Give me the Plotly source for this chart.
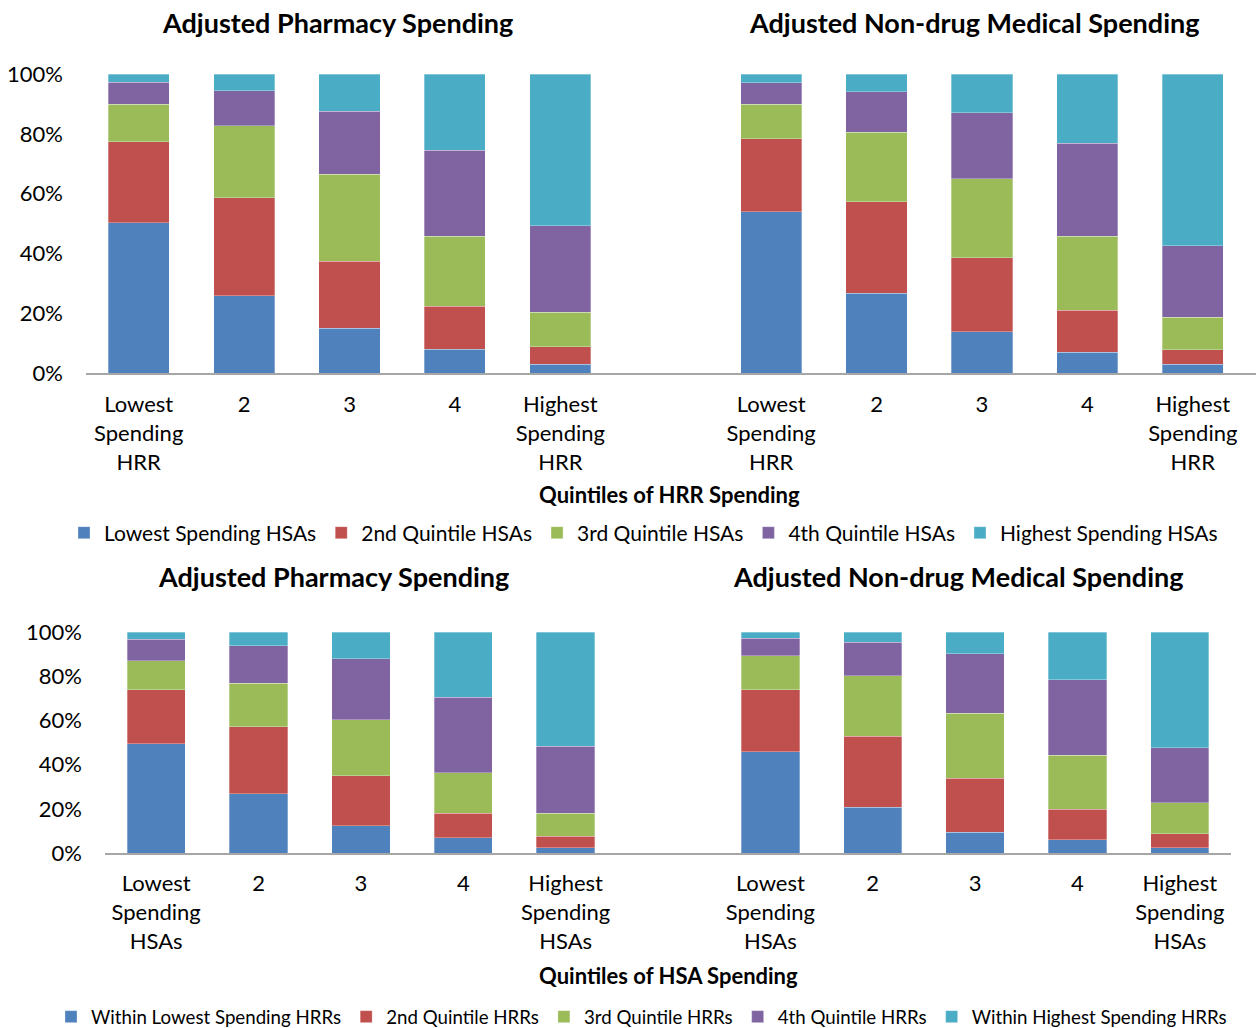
import plotly.graph_objects as go

W, H = 1259, 1028

# ---- data (percent of each bar) ----
series_hsa = ["Lowest Spending HSAs", "2nd Quintile HSAs", "3rd Quintile HSAs",
              "4th Quintile HSAs", "Highest Spending HSAs"]
series_hrr = ["Within Lowest Spending HRRs", "2nd Quintile HRRs", "3rd Quintile HRRs",
              "4th Quintile HRRs", "Within Highest Spending HRRs"]
colors = ["#4F81BD", "#C0504D", "#9BBB59", "#8064A2", "#4BACC6"]

cats_hrr = ["Lowest\nSpending\nHRR", "2", "3", "4", "Highest\nSpending\nHRR"]
cats_hsa = ["Lowest\nSpending\nHSAs", "2", "3", "4", "Highest\nSpending\nHSAs"]
y_ticks = [0, 20, 40, 60, 80, 100]

# Quintiles of HRR spending — pharmacy
hrr_pharm_lowest = [50.2, 25.8, 15.0, 8.0, 2.9]
hrr_pharm_q2 = [27.2, 32.8, 22.3, 14.3, 5.9]
hrr_pharm_q3 = [12.5, 24.1, 29.2, 23.4, 11.6]
hrr_pharm_q4 = [7.3, 11.7, 21.0, 28.8, 28.8]
hrr_pharm_highest = [2.8, 5.6, 12.5, 25.5, 50.8]

# Quintiles of HRR spending — non-drug medical
hrr_med_lowest = [53.9, 26.7, 13.8, 6.9, 2.9]
hrr_med_q2 = [24.5, 30.6, 24.7, 14.1, 4.9]
hrr_med_q3 = [11.5, 23.2, 26.5, 24.7, 10.9]
hrr_med_q4 = [7.2, 13.5, 22.1, 31.1, 23.8]
hrr_med_highest = [2.9, 6.0, 12.9, 23.2, 57.5]

# Quintiles of HSA spending — pharmacy
hsa_pharm_lowest = [49.4, 26.8, 12.3, 6.9, 2.3]
hsa_pharm_q2 = [24.5, 30.4, 22.6, 11.0, 5.2]
hsa_pharm_q3 = [13.0, 19.7, 25.5, 18.4, 10.6]
hsa_pharm_q4 = [9.8, 16.9, 27.6, 34.2, 30.1]
hsa_pharm_highest = [3.3, 6.2, 12.0, 29.5, 51.8]

# Quintiles of HSA spending — non-drug medical
hsa_med_lowest = [45.8, 20.6, 9.5, 6.0, 2.3]
hsa_med_q2 = [28.1, 32.3, 24.4, 13.9, 6.3]
hsa_med_q3 = [15.4, 27.4, 29.4, 24.4, 14.1]
hsa_med_q4 = [7.8, 15.0, 26.8, 34.2, 25.0]
hsa_med_highest = [2.9, 4.7, 9.9, 21.5, 52.3]

top_pharm = [hrr_pharm_lowest, hrr_pharm_q2, hrr_pharm_q3, hrr_pharm_q4, hrr_pharm_highest]
top_med = [hrr_med_lowest, hrr_med_q2, hrr_med_q3, hrr_med_q4, hrr_med_highest]
bot_pharm = [hsa_pharm_lowest, hsa_pharm_q2, hsa_pharm_q3, hsa_pharm_q4, hsa_pharm_highest]
bot_med = [hsa_med_lowest, hsa_med_q2, hsa_med_q3, hsa_med_q4, hsa_med_highest]

# Left group sits at slots 0-4, right group at 6-10 (slot 5 left empty)
left_pos = [0, 1, 2, 3, 4]
right_pos = [6, 7, 8, 9, 10]
positions = left_pos + right_pos

FONT = "Lato"
fig = go.Figure()

for i in range(5):
    fig.add_trace(go.Bar(
        x=positions, y=top_pharm[i] + top_med[i], name=series_hsa[i],
        marker=dict(color=colors[i], line=dict(width=0.6, color="rgba(255,255,255,0.5)")),
        width=0.58, xaxis="x", yaxis="y", legend="legend",
    ))
for i in range(5):
    fig.add_trace(go.Bar(
        x=positions, y=bot_pharm[i] + bot_med[i], name=series_hrr[i],
        marker=dict(color=colors[i], line=dict(width=0.6, color="rgba(255,255,255,0.5)")),
        width=0.57, xaxis="x2", yaxis="y2", legend="legend2",
    ))


def px_x(p):
    return p / W


def px_y(p):
    return 1 - p / H


def tick_text(labels):
    return [lab.replace("\n", "<br>") for lab in labels] * 2


xcommon = dict(showgrid=False, zeroline=False, showline=True, linecolor="#A6A6A6",
               linewidth=2, ticks="", tickfont=dict(family=FONT, size=22, color="#000"),
               tickmode="array", tickvals=positions, fixedrange=True, automargin=False)
ycommon = dict(showgrid=False, zeroline=False, showline=False, ticks="",
               range=[0, 100], tickmode="array", tickvals=y_ticks,
               ticktext=[f"{v}%" for v in y_ticks], ticklabelstandoff=22,
               tickfont=dict(family=FONT, size=22, color="#000"), fixedrange=True,
               automargin=False)

fig.update_layout(
    width=W, height=H, autosize=False,
    margin=dict(l=0, r=0, t=0, b=0, autoexpand=False),
    paper_bgcolor="white", plot_bgcolor="white",
    barmode="stack", showlegend=True,
    font=dict(family=FONT, color="#000"),
    xaxis=dict(xcommon, domain=[px_x(86), px_x(1256)], range=[-0.5, 10.6],
               ticktext=tick_text(cats_hrr), anchor="y", ticklabelstandoff=11),
    yaxis=dict(ycommon, domain=[px_y(373), px_y(74)], anchor="x"),
    xaxis2=dict(xcommon, domain=[px_x(105), px_x(1231)], range=[-0.5, 10.5],
                ticktext=tick_text(cats_hsa), anchor="y2", ticklabelstandoff=10),
    yaxis2=dict(ycommon, domain=[px_y(853), px_y(632)], anchor="x2"),
    legend=dict(orientation="h", x=px_x(64), y=px_y(533), xanchor="left", yanchor="middle",
                font=dict(family=FONT, size=21, color="#000"), traceorder="normal",
                bgcolor="rgba(0,0,0,0)"),
    legend2=dict(orientation="h", x=px_x(51), y=px_y(1017), xanchor="left", yanchor="middle",
                 font=dict(family=FONT, size=18.7, color="#000"), traceorder="normal",
                 bgcolor="rgba(0,0,0,0)"),
)

titles = [
    ("Adjusted Pharmacy Spending", 337, 22, 27),
    ("Adjusted Non-drug Medical Spending", 975, 22, 27),
    ("Quintiles of HRR Spending", 669, 494, 22),
    ("Adjusted Pharmacy Spending", 333, 576, 27),
    ("Adjusted Non-drug Medical Spending", 958, 576, 27),
    ("Quintiles of HSA Spending", 668, 975, 22),
]
for text, cx, cy, size in titles:
    fig.add_annotation(text=f"<b>{text}</b>", x=px_x(cx), y=px_y(cy), xref="paper", yref="paper",
                       xanchor="center", yanchor="middle", showarrow=False,
                       font=dict(family=FONT, size=size, color="#000"))

fig.write_html("out.html")
